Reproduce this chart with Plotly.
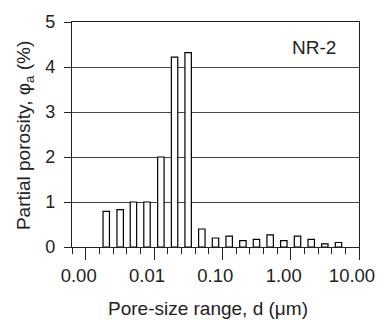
import numpy as np
import plotly.graph_objects as go

# Pore-size bin centres (µm), log-spaced bins of 0.2 decade
pore_size = [0.0020, 0.0032, 0.0050, 0.0079, 0.0126, 0.0200, 0.0316, 0.0501, 0.0794,
             0.126, 0.200, 0.316, 0.501, 0.794, 1.259, 2.00, 3.16, 5.01]
porosity = [0.79, 0.83, 1.00, 1.00, 2.00, 4.22, 4.32, 0.40, 0.20,
            0.24, 0.14, 0.17, 0.27, 0.14, 0.24, 0.17, 0.07, 0.10]
tick_vals = [0.001, 0.01, 0.1, 1, 10]
tick_text = ["0.00", "0.01", "0.10", "1.00", "10.00"]

xlog = np.log10(pore_size)
FONT = "Liberation Sans, Arial, sans-serif"

L, R, T, B = 72, 18, 21, 73
W, H = 387, 320
plot_w = W - L - R
plot_h = H - T - B

def px(xp):
    return (xp - L) / plot_w

def py(yp):
    return (H - B - yp) / plot_h

fig = go.Figure()
fig.add_trace(go.Bar(
    x=xlog, y=porosity, width=0.094,
    marker=dict(color="white", line=dict(color="black", width=1.2)),
    showlegend=False,
))

fig.update_layout(
    width=W, height=H,
    margin=dict(l=L, r=R, t=T, b=B),
    paper_bgcolor="white", plot_bgcolor="white",
    font=dict(family=FONT, size=18, color="#222"),
    xaxis=dict(
        range=[-3.2, 1.0],
        tickmode="array",
        tickvals=list(np.log10(tick_vals)),
        ticktext=tick_text,
        ticks="outside", ticklen=12, tickwidth=1.2, tickcolor="#222",
        showgrid=False, zeroline=False,
        showline=True, linecolor="#222", linewidth=1.2, mirror=True,
        minor=dict(tick0=-3.2, dtick=0.2, ticks="outside", ticklen=6,
                   tickwidth=1.2, tickcolor="#222", showgrid=False),
        tickfont=dict(size=18.5),
        ticklabelshift=-7,
        ticklabeloverflow="allow",
    ),
    yaxis=dict(
        range=[0, 5], dtick=1,
        ticks="outside", ticklen=7, tickwidth=1.2, tickcolor="#222",
        showgrid=True, gridcolor="#444", gridwidth=1.4,
        zeroline=False,
        showline=True, linecolor="#222", linewidth=1.2, mirror=True,
        tickfont=dict(size=18),
        ticklabelstandoff=5,
    ),
    annotations=[
        dict(text="NR-2", x=px(322), y=py(47), xref="paper", yref="paper", showarrow=False,
             xanchor="center", yanchor="middle", font=dict(size=19)),
        dict(text="Pore-size range, d (μm)", x=px(213), y=py(309), xref="paper", yref="paper",
             showarrow=False, xanchor="center", yanchor="middle", font=dict(size=19)),
        dict(text="Partial porosity, φ<sub>a</sub> (%)", x=px(24), y=py(135), xref="paper", yref="paper",
             showarrow=False, textangle=-90, xanchor="center", yanchor="middle",
             font=dict(size=19)),
    ],
)

fig.write_html("out.html")
